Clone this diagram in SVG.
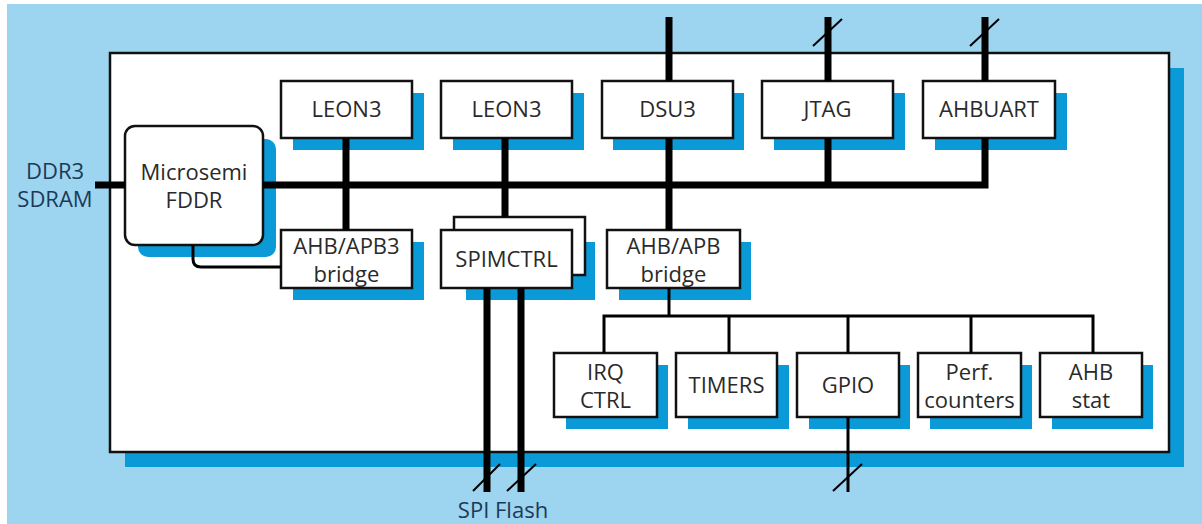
<svg xmlns="http://www.w3.org/2000/svg" width="1202" height="524" viewBox="0 0 1202 524">
<style>
.bg{fill:#9dd4ef}
.sh{fill:#0b9ad8}
.box{fill:#ffffff;stroke:#111;stroke-width:2.5}
.t{font-family:"Open Sans","Noto Sans","Liberation Sans",sans-serif;font-size:22px;fill:#2a2a2a;text-anchor:middle}
.ext{font-family:"Open Sans","Noto Sans","Liberation Sans",sans-serif;font-size:22px;fill:#1b3a57;text-anchor:middle}
.bus{stroke:#000;stroke-width:7;fill:none}
.thin{stroke:#000;stroke-width:3;fill:none}
.sl{stroke:#000;stroke-width:2;fill:none}
</style>
<rect width="1202" height="524" fill="#ffffff"/>
<rect class="bg" x="7" y="4" width="1195" height="520"/>
<g id="chip">
<rect class="sh" x="125" y="68" width="1059" height="399"/>
<rect x="110" y="53" width="1059" height="399" fill="#ffffff" stroke="#111" stroke-width="2.5"/>
</g>
<g id="fddr">
<rect class="sh" x="138" y="139" width="138" height="118" rx="10"/>
<rect class="box" x="125" y="126" width="138" height="119" rx="10"/>
<text class="t" x="194" y="180">Microsemi</text>
<text class="t" x="194" y="208">FDDR</text>
</g>
<g id="leon3a">
<rect class="sh" x="293" y="93" width="131" height="57"/>
<rect class="box" x="281" y="81" width="131" height="57"/>
<text class="t" x="346.5" y="117">LEON3</text>
</g>
<g id="leon3b">
<rect class="sh" x="453" y="93" width="131" height="57"/>
<rect class="box" x="441" y="81" width="131" height="57"/>
<text class="t" x="506.5" y="117">LEON3</text>
</g>
<g id="dsu3">
<rect class="sh" x="613" y="93" width="131" height="57"/>
<rect class="box" x="602" y="81" width="131" height="57"/>
<text class="t" x="667.5" y="117">DSU3</text>
</g>
<g id="jtag">
<rect class="sh" x="774" y="93" width="131" height="57"/>
<rect class="box" x="762" y="81" width="131" height="57"/>
<text class="t" x="827.5" y="117">JTAG</text>
</g>
<g id="ahbuart">
<rect class="sh" x="935" y="93" width="132" height="57"/>
<rect class="box" x="923" y="81" width="132" height="57"/>
<text class="t" x="989" y="117">AHBUART</text>
</g>
<g id="apb3bridge">
<rect class="sh" x="293" y="242" width="131" height="58"/>
<rect class="box" x="281" y="230" width="131" height="58"/>
<text class="t" x="346.5" y="254">AHB/APB3</text>
<text class="t" x="346.5" y="282">bridge</text>
</g>
<g id="spimctrl">
<rect class="sh" x="466" y="242" width="129" height="58"/>
<rect class="box" x="454" y="217" width="131" height="58"/>
<rect class="box" x="441" y="230" width="131" height="58"/>
<text class="t" x="506.5" y="267">SPIMCTRL</text>
</g>
<g id="apbbridge">
<rect class="sh" x="619" y="242" width="132" height="58"/>
<rect class="box" x="607" y="230" width="133" height="58"/>
<text class="t" x="673.5" y="254">AHB/APB</text>
<text class="t" x="673.5" y="282">bridge</text>
</g>
<g id="irqctrl">
<rect class="sh" x="566" y="365" width="102" height="64"/>
<rect class="box" x="554" y="353" width="103" height="64"/>
<text class="t" x="605.5" y="380">IRQ</text>
<text class="t" x="605.5" y="408">CTRL</text>
</g>
<g id="timers">
<rect class="sh" x="688" y="365" width="101" height="64"/>
<rect class="box" x="676" y="353" width="101" height="64"/>
<text class="t" x="726.5" y="393">TIMERS</text>
</g>
<g id="gpio">
<rect class="sh" x="809" y="365" width="101" height="64"/>
<rect class="box" x="797" y="353" width="102" height="64"/>
<text class="t" x="848" y="393">GPIO</text>
</g>
<g id="perf">
<rect class="sh" x="930" y="365" width="102" height="64"/>
<rect class="box" x="918" y="353" width="103" height="64"/>
<text class="t" x="969.5" y="380">Perf.</text>
<text class="t" x="969.5" y="408">counters</text>
</g>
<g id="ahbstat">
<rect class="sh" x="1052" y="365" width="101" height="64"/>
<rect class="box" x="1040" y="353" width="102" height="64"/>
<text class="t" x="1091" y="380">AHB</text>
<text class="t" x="1091" y="408">stat</text>
</g>
<g id="connectors">
<line class="bus" x1="95" y1="185" x2="125" y2="185"/>
<polyline class="bus" points="263,185 985,185 985,138"/>
<line class="bus" x1="985" y1="81" x2="985" y2="17"/>
<line class="bus" x1="828" y1="81" x2="828" y2="17"/>
<line class="bus" x1="828" y1="138" x2="828" y2="185"/>
<line class="bus" x1="669" y1="17" x2="669" y2="81"/>
<line class="bus" x1="669" y1="138" x2="669" y2="230"/>
<line class="bus" x1="346" y1="138" x2="346" y2="230"/>
<line class="bus" x1="505" y1="138" x2="505" y2="217"/>
<line class="bus" x1="487" y1="288" x2="487" y2="492"/>
<line class="bus" x1="521" y1="288" x2="521" y2="492"/>
<path class="thin" d="M193,245 V259 Q193,267 201,267 H281"/>
<line class="thin" x1="669" y1="288" x2="669" y2="316"/>
<polyline class="thin" points="604,353 604,316 1093,316 1093,353"/>
<line class="thin" x1="729" y1="316" x2="729" y2="353"/>
<line class="thin" x1="848" y1="316" x2="848" y2="353"/>
<line class="thin" x1="971" y1="316" x2="971" y2="353"/>
<line class="thin" x1="848" y1="417" x2="848" y2="492"/>
<line class="sl" x1="813" y1="46" x2="842" y2="19"/>
<line class="sl" x1="970" y1="46" x2="999" y2="19"/>
<line class="sl" x1="473" y1="491" x2="500" y2="464"/>
<line class="sl" x1="507" y1="491" x2="536" y2="464"/>
<line class="sl" x1="833" y1="491" x2="862" y2="464"/>
</g>
<text class="ext" x="55" y="179">DDR3</text>
<text class="ext" x="55" y="207">SDRAM</text>
<text class="ext" x="503" y="518">SPI Flash</text>
</svg>
